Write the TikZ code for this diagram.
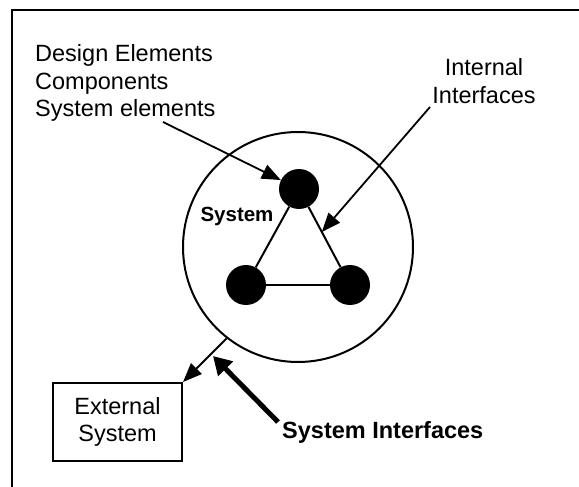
\documentclass[tikz,border=0pt]{standalone}
\usepackage{fontspec}
\setmainfont{Liberation Sans}
\usetikzlibrary{arrows.meta,calc}
\begin{document}
\begin{tikzpicture}[x=1pt,y=-1pt,
  lbl/.style={inner sep=0pt,font=\fontsize{23.5}{27.5}\selectfont},
  blbl/.style={inner sep=0pt,font=\fontsize{23.5}{27.5}\selectfont\bfseries},
  slbl/.style={inner sep=0pt,font=\fontsize{20.5}{24}\selectfont\bfseries},
  dot/.style={circle,fill=black,minimum size=40pt,inner sep=0pt},
  edge/.style={line width=2pt},
  arr/.style={line width=1.8pt,-{Triangle[length=19pt,width=15pt]}},
  thickarr/.style={line width=5pt,-{Triangle[length=18pt,width=20pt]}},
  frame/.style={line width=2pt}]
\useasboundingbox (0,0) rectangle (579,487);
% frame (right and bottom lie outside the picture)
\coordinate (fbl) at (11.5,495);
\coordinate (ftl) at (11.5,10.5);
\coordinate (ftr) at (590,10.5);
\draw[frame] (fbl) -- (ftl) -- (ftr);
% system circle
\node[draw,circle,minimum size=230pt,inner sep=0pt,line width=2pt] (sys) at (298,247) {};
\node[dot] (d1) at (299,189) {};
\node[dot] (d2) at (246,285) {};
\node[dot] (d3) at (350,285) {};
\draw[edge] (d1) -- (d2);
\draw[edge] (d2) -- (d3);
\draw[edge] (d3) -- (d1);
\node[slbl] (syslbl) at (237,216) {System};
% labels
\node[lbl,align=left,anchor=west] (elems) at (35,83) {Design Elements\\Components\\System elements};
\node[lbl,align=center] (intl) at (484,81) {Internal\\Interfaces};
\node[draw,lbl,line width=2pt,minimum width=129pt,minimum height=78pt,align=center] (ext) at (117.5,422) {External\\System};
\node[blbl,anchor=west] (sil) at (282,432) {System Interfaces};
% arrows
\coordinate (a1s) at (163,122);
\draw[arr] (a1s) -- (d1);
\coordinate (a2s) at (430,107);
\coordinate (a2e) at ($(d1)!0.448!(d3)$);
\draw[arr] (a2s) -- (a2e);
\draw[arr] (sys.232) -- (ext.north east);
\coordinate (a4s) at (278,422);
\coordinate (a4e) at (213,356);
\draw[thickarr] (a4s) -- (a4e);
\end{tikzpicture}
\end{document}
